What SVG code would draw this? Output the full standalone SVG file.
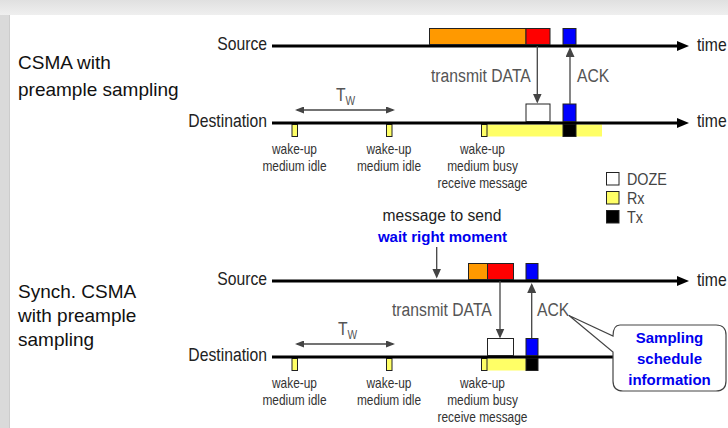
<svg xmlns="http://www.w3.org/2000/svg" width="728" height="428" viewBox="0 0 728 428">
  <defs>
    <linearGradient id="topbar" x1="0" y1="0" x2="0" y2="1">
      <stop offset="0" stop-color="#e0e0e0"/>
      <stop offset="1" stop-color="#efefef"/>
    </linearGradient>
    <!-- black head of a time axis; the line stops 9px short of the tip -->
    <marker id="timeHead" viewBox="0 0 12 10" refX="3" refY="5" markerWidth="12" markerHeight="10" markerUnits="userSpaceOnUse" orient="auto">
      <path d="M0,0 L12,5 L0,10 z" fill="#000"/>
    </marker>
    <!-- grey head for the message arrows -->
    <marker id="head" viewBox="0 0 10 9" refX="8" refY="4.5" markerWidth="10" markerHeight="9" markerUnits="userSpaceOnUse" orient="auto-start-reverse">
      <path d="M0,0 L10,4.5 L0,9 z" fill="#444"/>
    </marker>
    <!-- smaller head for the wake-up interval -->
    <marker id="headSmall" viewBox="0 0 9 7" refX="7" refY="3.5" markerWidth="9" markerHeight="7" markerUnits="userSpaceOnUse" orient="auto-start-reverse">
      <path d="M0,0 L9,3.5 L0,7 z" fill="#444"/>
    </marker>
  </defs>
  <style>
    text { font-family: "Liberation Sans", Arial, sans-serif; }
    .title { font-size: 19px; fill: #111; }
    .lbl { font-size: 18.5px; fill: #222; }
    .gray { fill: #555; }
    .small { font-size: 14px; fill: #333; text-anchor: middle; }
    .legend { font-size: 16.5px; fill: #444; }
    .blue { font-size: 15px; font-weight: bold; fill: #0000ee; text-anchor: middle; }
    .plain { font-size: 15.6px; fill: #222; text-anchor: middle; }
    .tl { stroke: #000; stroke-width: 3; fill: none; }
    .box { stroke: #222; stroke-width: 1; }
    .arr { stroke: #444; stroke-width: 1.3; fill: none; }
    .orange { fill: #ff9900; }
    .red { fill: #ff0000; }
    .blueb { fill: #0000ff; }
    .doze { fill: #ffffff; }
    .rx { fill: #ffff66; }
    .tx { fill: #000000; }
  </style>

  <!-- page background and frame -->
  <g id="background">
    <rect x="0" y="0" width="728" height="428" fill="#e6e6e6"/>
    <rect x="0" y="0" width="728" height="15" fill="url(#topbar)"/>
    <rect x="0" y="15" width="10" height="413" fill="#dadada"/>
    <line x1="9.5" y1="15" x2="9.5" y2="428" stroke="#cccccc" stroke-width="1"/>
    <rect x="10" y="15" width="718" height="413" fill="#ffffff"/>
  </g>

  <!-- ===== CSMA with preamble sampling ===== -->
  <g id="title-csma">
    <text class="title" x="18" y="69">CSMA with</text>
    <text class="title" x="18" y="96">preample sampling</text>
  </g>

  <g id="source-1">
    <text class="lbl" text-anchor="end" transform="translate(267 50) scale(0.85 1)">Source</text>
    <line class="tl" x1="272" y1="46" x2="680" y2="46" marker-end="url(#timeHead)"/>
    <text class="lbl" transform="translate(697 51) scale(0.85 1)">time</text>
    <rect class="box orange" x="429.5" y="28.5" width="96.5" height="16"/>
    <rect class="box red" x="526" y="28.5" width="24" height="16"/>
    <rect class="box blueb" x="563" y="28.5" width="13" height="16"/>
  </g>

  <g id="destination-1">
    <text class="lbl" text-anchor="end" transform="translate(267 127) scale(0.85 1)">Destination</text>
    <rect class="rx" x="487" y="124.5" width="115" height="12"/>
    <rect class="box rx" x="292" y="124.5" width="5.5" height="12"/>
    <rect class="box rx" x="386.5" y="124.5" width="5.5" height="12"/>
    <rect class="box rx" x="481.5" y="124.5" width="5.5" height="12"/>
    <rect class="box tx" x="563" y="124.5" width="13" height="12"/>
    <line class="tl" x1="272" y1="123" x2="680" y2="123" marker-end="url(#timeHead)"/>
    <text class="lbl" transform="translate(697 127) scale(0.85 1)">time</text>
    <rect class="box doze" x="526" y="104" width="24" height="17.5"/>
    <rect class="box blueb" x="563" y="104" width="13" height="17.5"/>
    <text class="lbl gray" transform="translate(336 101) scale(0.85 1)">T<tspan font-size="12" dy="4">W</tspan></text>
  </g>

  <g id="wakeups-1">
    <text class="small" transform="translate(294.5 154) scale(0.85 1)">wake-up</text>
    <text class="small" transform="translate(294.5 171) scale(0.85 1)">medium idle</text>
    <text class="small" transform="translate(389 154) scale(0.85 1)">wake-up</text>
    <text class="small" transform="translate(389 171) scale(0.85 1)">medium idle</text>
    <text class="small" transform="translate(482.5 154) scale(0.85 1)">wake-up</text>
    <text class="small" transform="translate(482.5 171) scale(0.85 1)">medium busy</text>
    <text class="small" transform="translate(482.5 188) scale(0.85 1)">receive message</text>
  </g>

  <!-- legend -->
  <g id="legend">
    <rect class="box doze" x="606.5" y="172.5" width="12.5" height="12.5"/>
    <rect class="box rx" x="606.5" y="191.5" width="12.5" height="12.5"/>
    <rect class="box tx" x="606.5" y="210.5" width="12.5" height="12.5"/>
    <text class="legend" transform="translate(627 185) scale(0.87 1)">DOZE</text>
    <text class="legend" transform="translate(627 204) scale(0.87 1)">Rx</text>
    <text class="legend" transform="translate(627 222.5) scale(0.87 1)">Tx</text>
  </g>

  <!-- ===== Synchronised CSMA with preamble sampling ===== -->
  <g id="title-synch">
    <text class="title" x="18" y="298">Synch. CSMA</text>
    <text class="title" x="18" y="322">with preample</text>
    <text class="title" x="18" y="346">sampling</text>
  </g>

  <g id="send-note">
    <text class="plain" x="442" y="221">message to send</text>
    <text class="blue" x="442.5" y="242">wait right moment</text>
  </g>

  <g id="source-2">
    <text class="lbl" text-anchor="end" transform="translate(267 285) scale(0.85 1)">Source</text>
    <line class="tl" x1="272" y1="281" x2="680" y2="281" marker-end="url(#timeHead)"/>
    <text class="lbl" transform="translate(697 286) scale(0.85 1)">time</text>
    <rect class="box orange" x="468.5" y="263.5" width="19" height="16"/>
    <rect class="box red" x="487.5" y="263.5" width="26" height="16"/>
    <rect class="box blueb" x="526" y="263.5" width="12" height="16"/>
  </g>

  <g id="destination-2">
    <text class="lbl" text-anchor="end" transform="translate(267 361) scale(0.85 1)">Destination</text>
    <rect class="rx" x="487" y="358.5" width="39" height="12"/>
    <rect class="box rx" x="292" y="358.5" width="5.5" height="12"/>
    <rect class="box rx" x="386.5" y="358.5" width="5.5" height="12"/>
    <rect class="box rx" x="481.5" y="358.5" width="5.5" height="12"/>
    <rect class="box tx" x="526" y="358.5" width="12" height="12"/>
    <line class="tl" x1="272" y1="357" x2="614" y2="357"/>
    <rect class="box doze" x="487.5" y="338.5" width="26" height="17"/>
    <rect class="box blueb" x="526" y="338.5" width="12" height="17"/>
    <text class="lbl gray" transform="translate(338 335) scale(0.85 1)">T<tspan font-size="12" dy="4">W</tspan></text>
  </g>

  <g id="wakeups-2">
    <text class="small" transform="translate(294.5 388) scale(0.85 1)">wake-up</text>
    <text class="small" transform="translate(294.5 405) scale(0.85 1)">medium idle</text>
    <text class="small" transform="translate(389 388) scale(0.85 1)">wake-up</text>
    <text class="small" transform="translate(389 405) scale(0.85 1)">medium idle</text>
    <text class="small" transform="translate(482.5 388) scale(0.85 1)">wake-up</text>
    <text class="small" transform="translate(482.5 405) scale(0.85 1)">medium busy</text>
    <text class="small" transform="translate(482.5 422) scale(0.85 1)">receive message</text>
  </g>

  <!-- callout on the ACK -->
  <g id="callout">
    <path d="M620,325 H716 Q726,325 726,335 V381 Q726,391 716,391 H623 Q613,391 613,381 V352 L569,315.5 L613,336 Q613,325 620,325 Z" fill="#ffffff" stroke="#444" stroke-width="1.2"/>
    <text class="blue" x="669.5" y="343">Sampling</text>
    <text class="blue" x="669.5" y="364">schedule</text>
    <text class="blue" x="669.5" y="385">information</text>
  </g>

  <!-- message arrows -->
  <g id="connectors">
    <line class="arr" x1="537.3" y1="46" x2="537.3" y2="101.5" marker-end="url(#head)"/>
    <line class="arr" x1="570" y1="104" x2="570" y2="49" marker-end="url(#head)"/>
    <text class="lbl gray" transform="translate(431 82) scale(0.85 1)">transmit DATA</text>
    <text class="lbl gray" transform="translate(577 82) scale(0.85 1)">ACK</text>
    <line class="arr" x1="297" y1="110" x2="393" y2="110" marker-start="url(#headSmall)" marker-end="url(#headSmall)"/>

    <line class="arr" x1="436.7" y1="247" x2="436.7" y2="276.5" marker-end="url(#head)"/>
    <line class="arr" x1="500" y1="281" x2="500" y2="336.5" marker-end="url(#head)"/>
    <line class="arr" x1="531.7" y1="338" x2="531.7" y2="285" marker-end="url(#head)"/>
    <text class="lbl gray" transform="translate(392 316) scale(0.85 1)">transmit DATA</text>
    <text class="lbl gray" transform="translate(537 316) scale(0.85 1)">ACK</text>
    <line class="arr" x1="297" y1="344" x2="393" y2="344" marker-start="url(#headSmall)" marker-end="url(#headSmall)"/>
  </g>
</svg>
